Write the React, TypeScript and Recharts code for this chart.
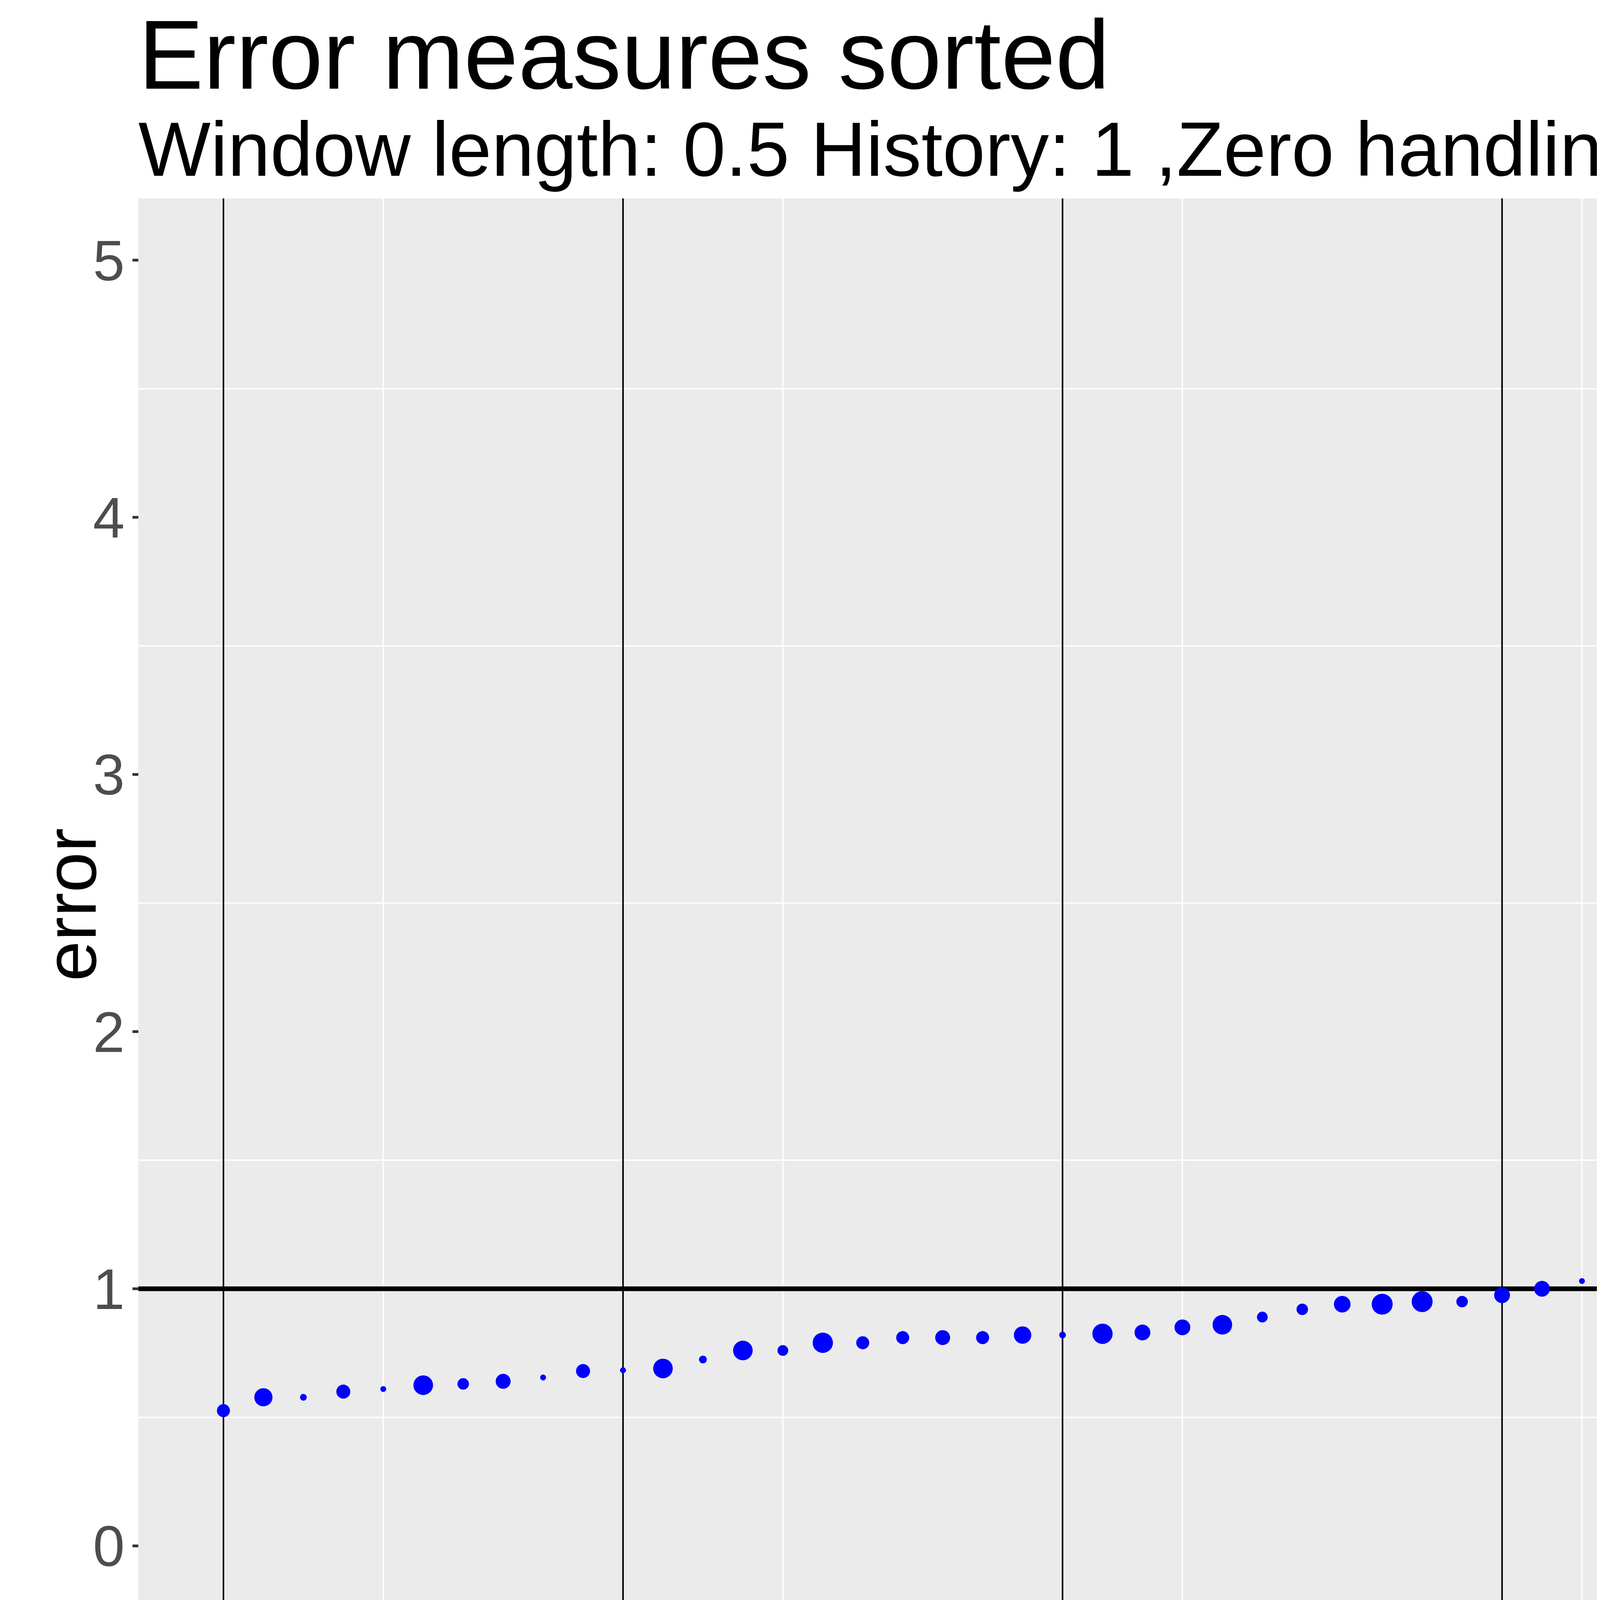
import React from "react";
import {
  CartesianGrid,
  ReferenceLine,
  Scatter,
  ScatterChart,
  XAxis,
  YAxis,
  ZAxis,
} from "recharts";

const S = 3.846;
const FONT = "'Liberation Sans', Arial, sans-serif";

const indices = [
  1, 2, 3, 4, 5, 6, 7, 8, 9, 10, 11, 12, 13, 14, 15, 16, 17, 18, 19, 20, 21, 22,
  23, 24, 25, 26, 27, 28, 29, 30, 31, 32, 33, 34, 35, 36, 37, 38, 39, 40, 41, 42, 43, 44,
];
const errors = [
  0.526, 0.578, 0.578, 0.6, 0.61, 0.625, 0.63, 0.64, 0.655, 0.68, 0.683, 0.69, 0.725, 0.76,
  0.76, 0.79, 0.79, 0.81, 0.81, 0.81, 0.82, 0.82, 0.825, 0.83, 0.85, 0.86, 0.89, 0.92, 0.94,
  0.94, 0.95, 0.95, 0.975, 1.0, 1.03, 1.045, 1.11, 1.16, 1.325, 1.38, 1.425, 1.44, 1.595, 1.705,
];
const lengths = [
  35, 65, 12, 40, 10, 75, 28, 45, 10, 40, 10, 75, 15, 75, 25, 80, 35, 35, 45, 35, 60, 12,
  80, 50, 50, 75, 25, 28, 55, 85, 85, 28, 50, 50, 10, 40, 50, 10, 28, 10, 42, 50, 28, 25,
];
const verticalMarks = [1, 11, 22, 33, 44];
const xTicks = [0, 10, 20, 30, 40];
const yTicks = [0, 1, 2, 3, 4, 5];
const xMinor = [5, 15, 25, 35, 45];
const yMinor = [0.5, 1.5, 2.5, 3.5, 4.5];
const sizeLegend = [20, 40, 60, 80];

const data = indices.map((x, i) => ({ index: x, error: errors[i], length: lengths[i] }));

const W = 5980;
const H = 4480;
const left = 90 * S;
const right = 1348 * S;
const top = 130 * S;
const bottom = 1068 * S;

export default function App() {
  const txt = (extra: React.CSSProperties): React.CSSProperties => ({
    position: "absolute",
    fontFamily: FONT,
    whiteSpace: "nowrap",
    lineHeight: 1,
    ...extra,
  });
  return (
    <div style={{ position: "relative", width: W, height: H, background: "#fff", overflow: "hidden" }}>
      <ScatterChart
        width={W}
        height={H}
        margin={{ top, right: W - right, bottom: 0, left: 0 }}
      >
        <rect x={left} y={top} width={right - left} height={bottom - top} fill="#EBEBEB" />
        {xMinor.map(v => (
          <ReferenceLine key={`xm${v}`} x={v} stroke="#fff" strokeWidth={3.5} />
        ))}
        {yMinor.map(v => (
          <ReferenceLine key={`ym${v}`} y={v} stroke="#fff" strokeWidth={3.5} />
        ))}
        <CartesianGrid stroke="#fff" strokeWidth={7.5} fill="none" />
        <XAxis
          type="number"
          dataKey="index"
          domain={[-1.13, 46.17]}
          ticks={xTicks}
          height={H - bottom}
          axisLine={false}
          tickLine={{ stroke: "#333", strokeWidth: 7 }}
          tickSize={15}
          tickMargin={20}
          tick={{ fill: "#4D4D4D", fontSize: 146, fontFamily: FONT }}
          allowDataOverflow
        />
        <YAxis
          type="number"
          dataKey="error"
          domain={[-0.24, 5.24]}
          ticks={yTicks}
          width={left}
          axisLine={false}
          tickLine={{ stroke: "#333", strokeWidth: 7 }}
          tickSize={15}
          tickMargin={20}
          tick={{ fill: "#4D4D4D", fontSize: 146, fontFamily: FONT }}
          allowDataOverflow
        />
        <ZAxis type="number" dataKey="length" domain={[10, 90]} range={[180, 2400]} />
        {verticalMarks.map(v => (
          <ReferenceLine key={`v${v}`} x={v} stroke="#000" strokeWidth={4} />
        ))}
        <ReferenceLine y={1} stroke="#000" strokeWidth={12} />
        <Scatter data={data} fill="#0000FF" isAnimationActive={false} />
      </ScatterChart>

      <div style={txt({ left: 90 * S, top: 2 * S, fontSize: 250 })}>Error measures sorted</div>
      <div style={txt({ left: 90 * S, top: 72 * S, fontSize: 196 })}>
        Window length: 0.5 History: 1 ,Zero handling zero_to_one
      </div>
      <div style={txt({ left: (718 * S) - 300, width: 600, textAlign: "center", top: 1118 * S, fontSize: 186 })}>
        index
      </div>
      <div
        style={txt({
          left: 45 * S - 300,
          width: 600,
          textAlign: "center",
          top: 600 * S - 93,
          fontSize: 186,
          transform: "rotate(-90deg)",
        })}
      >
        error
      </div>

      <div style={txt({ left: 1366 * S, top: 415 * S, fontSize: 186 })}>length</div>
      {sizeLegend.map((v, i) => {
        const cy = (508 + i * 40.5) * S;
        const r = 8 + (v - 10) * 0.19;
        return (
          <React.Fragment key={v}>
            <div style={{ position: "absolute", left: 1367 * S, top: cy - 20 * S, width: 18 * S, height: 40.5 * S, background: "#F2F2F2" }} />
            <div style={{ position: "absolute", left: 1376 * S - r, top: cy - r, width: 2 * r, height: 2 * r, borderRadius: "50%", background: "#000" }} />
            <div style={txt({ left: 1412 * S, top: cy - 70, fontSize: 146 })}>{v}</div>
          </React.Fragment>
        );
      })}
      <div style={txt({ left: 1366 * S, top: 678 * S, fontSize: 186 })}>Legend</div>
      <div style={{ position: "absolute", left: 1367 * S, top: 753 * S, width: 18 * S, height: 40 * S, background: "#F2F2F2" }} />
      <div style={{ position: "absolute", left: 1376 * S - 5, top: 773 * S - 5, width: 10, height: 10, borderRadius: "50%", background: "#0000FF" }} />
      <div style={txt({ left: 1412 * S, top: 773 * S - 70, fontSize: 146 })}>ingarch</div>
    </div>
  );
}
